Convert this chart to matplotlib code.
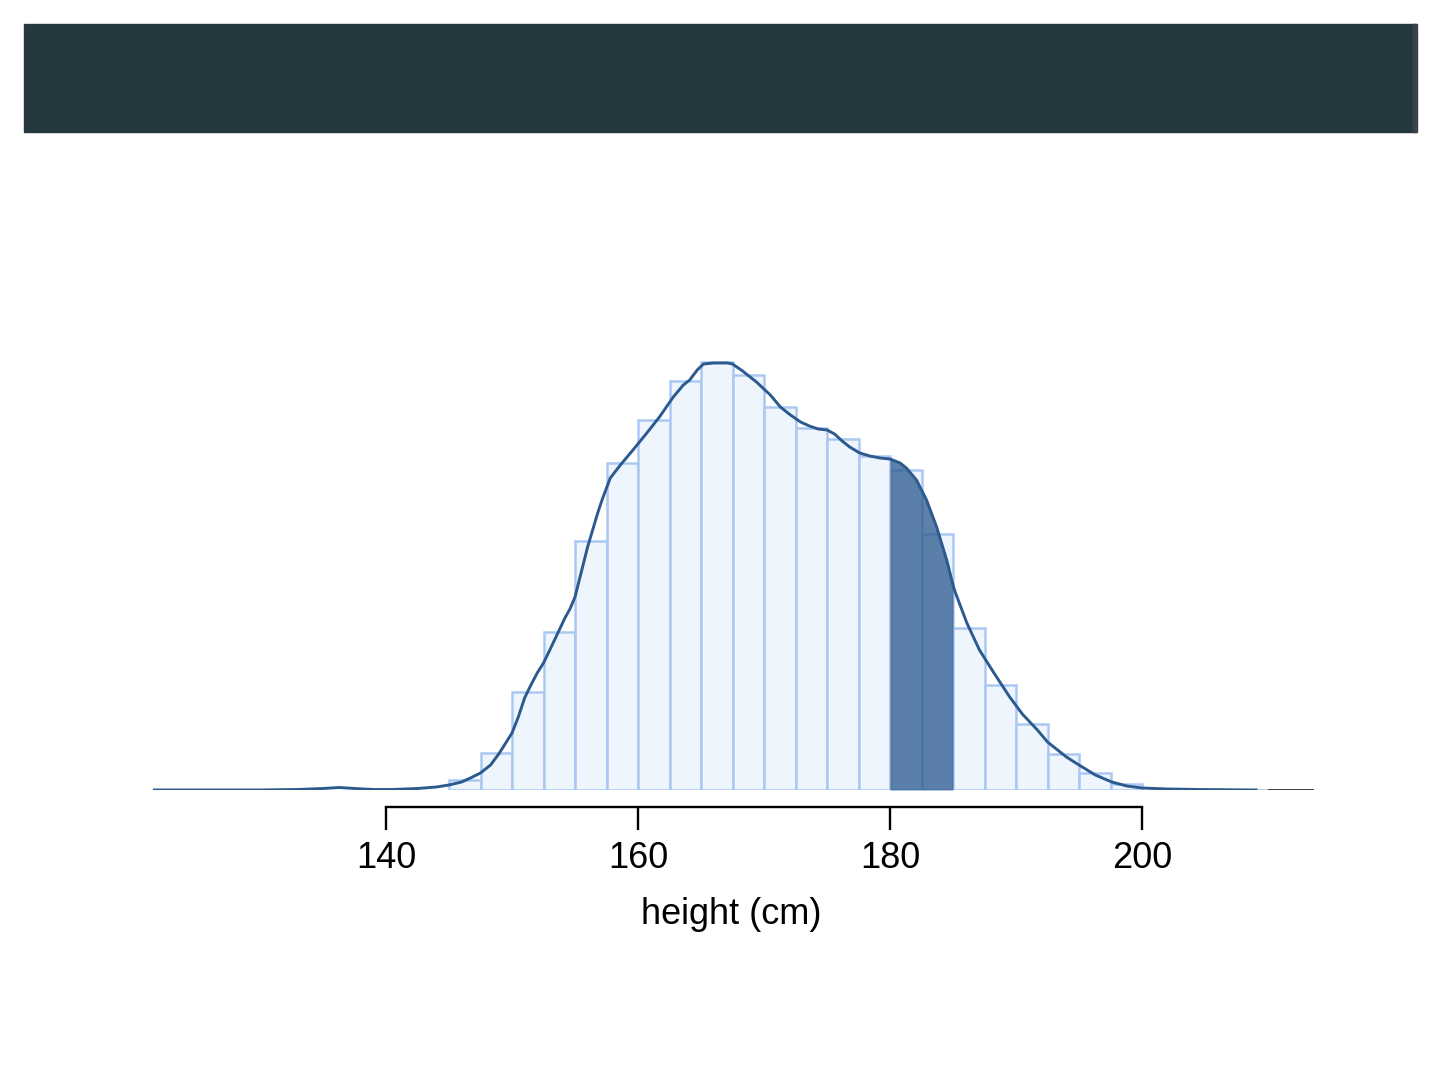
import matplotlib
matplotlib.use("Agg")
import matplotlib.pyplot as plt
from matplotlib.patches import Rectangle
import numpy as np

plt.rcParams['font.family'] = ['Liberation Sans', 'DejaVu Sans']

# histogram of heights: 2.5 cm bins from 145 to 200, counts per bin
bin_start = 145.0
bin_width = 2.5
counts = [10, 37, 98, 158, 249, 327, 370, 409, 428, 415, 383,
          362, 351, 334, 320, 256, 162, 105, 66, 36, 17, 6]

# density curve, scaled to counts per bin
curve_x = [121.5, 125, 130, 133, 135, 136.3, 137.5, 139, 140.5, 142.5,
           144, 145, 146, 146.7, 147.5, 148.3, 149, 149.5, 150, 150.5,
           151, 151.5, 152, 152.5, 153, 153.6, 154.2, 154.6, 155, 155.6,
           156, 156.4, 156.8, 157.2, 157.8, 158.6, 159.6, 160.7, 161.7, 162.8,
           163.6, 164.1, 164.7, 165.2, 166, 167.1, 167.5, 168.3, 169.4, 170.5,
           171.3, 172.1, 172.9, 173.6, 174.3, 175, 175.6, 176.2, 176.8, 177.6,
           178.4, 179.2, 180, 180.8, 181.3, 182.1, 182.9, 183.7, 184.5, 185,
           185.2, 186.1, 187.1, 188.2, 189.5, 190.5, 191.7, 192.5, 193.3, 194,
           195, 196.3, 197.6, 198.8, 200, 202, 204.6, 207, 209.2]
curve_y = [0, 0, 0, 0.5, 1.5, 2.5, 1.5, 0.5, 0.5, 1.5,
           3, 5, 8, 12, 17, 25, 37, 47, 57, 73,
           92, 105, 117, 127, 140, 156, 172, 181, 193, 223,
           243, 260, 277, 292, 312, 325, 340, 357, 373, 393,
           405, 410, 420, 426, 427, 427, 426, 419, 408, 395,
           383, 375, 368, 364, 361, 360, 356, 349, 343, 337,
           334, 332, 331, 327, 322, 310, 290, 263, 230, 205,
           197, 167, 140, 118, 93, 76, 60, 48, 40, 33,
           25, 15, 8, 4, 2, 1, 0.5, 0.2, 0]

# highlighted range
shade_lo, shade_hi = 180, 185

xticks = [140, 160, 180, 200]
xlabel = "height (cm)"

bar_face = "#eef5fd"
bar_edge = "#abc8f3"
line_col = "#2c5a8f"

fig = plt.figure(figsize=(14.4, 10.8), dpi=100)

# dark title band at the top of the slide
fig.patches.append(Rectangle((0.01667, 0.8778), 0.9667, 0.1,
                             transform=fig.transFigure, color="#25383f", zorder=0))
fig.patches.append(Rectangle((0.9813, 0.8778), 0.0028, 0.1,
                             transform=fig.transFigure, color="#3c4348", zorder=0))

ax = fig.add_axes([0.07556, 0.26852, 0.8575, 0.42593])

edges = bin_start + bin_width * np.arange(len(counts))
ax.bar(edges, counts, width=bin_width, align='edge', color=bar_face,
       edgecolor=bar_edge, linewidth=1.8, zorder=1)

cx = np.array(curve_x)
cy = np.array(curve_y)
sel = (cx >= shade_lo) & (cx <= shade_hi)
ax.fill_between(cx[sel], cy[sel], 0, color=line_col, alpha=0.76, lw=0, zorder=2)
ax.plot(cx, cy, color=line_col, lw=2.1, zorder=3, solid_capstyle='butt',
        solid_joinstyle='round')

# odd little tail at the right end of the baseline
ax.plot([209.2, 209.9], [0, 0], color=bar_edge, lw=2.0, zorder=3)
ax.plot([210.1, 213.5], [0, 0], color="#2a2a2a", lw=2.0, zorder=3)

ax.set_xlim(118, 216)
ax.set_ylim(0, 460)

for s in ['left', 'top', 'right']:
    ax.spines[s].set_visible(False)
ax.spines['bottom'].set_position(('outward', 12.2))
ax.spines['bottom'].set_bounds(140, 200)
ax.spines['bottom'].set_linewidth(1.7)
ax.set_yticks([])
ax.set_xticks(xticks)
ax.tick_params(axis='x', direction='out', length=16.5, width=1.7, pad=8,
               labelsize=26)
ax.set_xlabel(xlabel, fontsize=26)
ax.xaxis.set_label_coords(0.5043, -0.232)
ax.patch.set_visible(False)

fig.savefig("out.png", dpi=100)
